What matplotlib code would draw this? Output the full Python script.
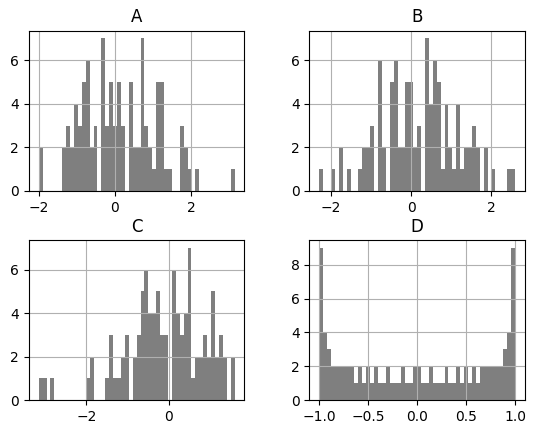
import matplotlib
matplotlib.use('Agg')
import matplotlib.pyplot as plt
import numpy as np

# bin counts (50 bins per panel)
counts_a = [2, 0, 0, 0, 0, 0, 2, 3, 2, 4, 3, 5, 6, 2, 3, 0, 7, 3, 5, 3,
            5, 3, 0, 5, 2, 2, 7, 3, 2, 1, 5, 5, 1, 1, 0, 0, 3, 2, 1, 0,
            1, 0, 0, 0, 0, 0, 0, 0, 0, 1]
counts_b = [1, 0, 0, 1, 0, 2, 0, 1, 0, 0, 1, 2, 2, 3, 0, 6, 2, 0, 5, 6,
            2, 2, 5, 5, 2, 3, 0, 7, 4, 6, 5, 1, 4, 2, 1, 4, 1, 2, 2, 3,
            2, 0, 2, 0, 1, 0, 0, 0, 1, 1]
counts_c = [1, 1, 0, 1, 0, 0, 0, 0, 0, 0, 0, 0, 1, 2, 0, 0, 0, 1, 3, 1,
            1, 2, 3, 0, 2, 3, 5, 6, 4, 4, 5, 3, 3, 0, 6, 4, 3, 4, 7, 1,
            2, 2, 3, 2, 5, 2, 3, 2, 0, 2]
counts_d = [9, 4, 3, 2, 2, 2, 2, 2, 2, 1, 2, 1, 2, 1, 2, 1, 1, 2, 1, 1,
            1, 2, 1, 1, 2, 2, 1, 1, 2, 1, 1, 1, 2, 1, 1, 2, 1, 2, 1, 2,
            1, 2, 2, 2, 2, 2, 2, 3, 4, 9]

# data range (min, max) of each column
ranges = {'A': (-2.01, 3.15), 'B': (-2.3, 2.6), 'C': (-3.153, 1.589), 'D': (-1.0, 1.0)}
titles = ['A', 'B', 'C', 'D']
all_counts = [counts_a, counts_b, counts_c, counts_d]

fig, axes = plt.subplots(2, 2, figsize=(5.35, 4.34), dpi=100)
fig.subplots_adjust(left=0.054, right=0.981, top=0.929, bottom=0.078,
                    wspace=0.302, hspace=0.308)

for ax, name, counts in zip(axes.flat, titles, all_counts):
    lo, hi = ranges[name]
    edges = np.linspace(lo, hi, len(counts) + 1)
    centers = (edges[:-1] + edges[1:]) / 2
    ax.hist(centers, bins=edges, weights=counts, color='k', alpha=0.5)
    ax.set_title(name)
    ax.grid(True)

plt.savefig('out.png', dpi=100)
